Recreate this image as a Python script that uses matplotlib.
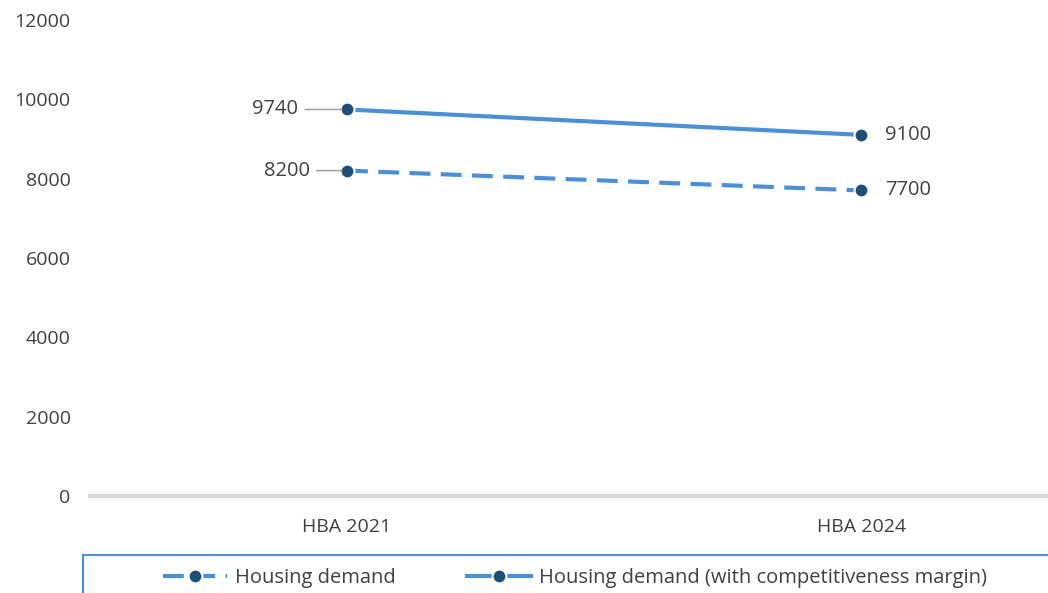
import matplotlib.pyplot as plt
from matplotlib.patches import Rectangle

plt.rcParams['font.family'] = ['Open Sans', 'DejaVu Sans']

categories = ["HBA 2021", "HBA 2024"]
demand = [8200, 7700]
demand_margin = [9740, 9100]
yticks = [0, 2000, 4000, 6000, 8000, 10000, 12000]

line_col = "#4a8fd8"
dot_col = "#1f4e79"
text_col = "#404040"

fig = plt.figure(figsize=(10.48, 5.93), dpi=100)
ax = fig.add_axes([0.0859, 0.1636, 0.981, 0.803])
x = [0, 1]

ax.plot(x, demand, linestyle=(0, (5, 2.5)), color=line_col, lw=3,
        marker='o', ms=10, mfc=dot_col, mec='white', mew=1.5,
        label="Housing demand")
ax.plot(x, demand_margin, linestyle='-', color=line_col, lw=3,
        marker='o', ms=10, mfc=dot_col, mec='white', mew=1.5,
        label="Housing demand (with competitiveness margin)")

ax.set_xlim(-0.5, 1.5)
ax.set_ylim(0, 12000)
ax.set_xticks(x)
ax.set_xticklabels(categories, fontsize=14, color=text_col)
ax.set_yticks(yticks)
ax.set_yticklabels([str(v) for v in yticks], fontsize=14, color=text_col)
ax.tick_params(length=0, pad=14)
ax.tick_params(axis='x', pad=16)
for s in ax.spines.values():
    s.set_visible(False)
ax.axhline(0, color="#d9d9d9", lw=3, zorder=0, clip_on=False)

# value labels, left side with leader lines
for yv, off in [(demand[0], -27), (demand_margin[0], -35)]:
    ax.annotate(str(yv), xy=(0, yv), xytext=(off, 0), textcoords='offset points',
                ha='right', va='center', fontsize=14.5, color=text_col,
                arrowprops=dict(arrowstyle='-', color="#a6a6a6", lw=1.2,
                                shrinkA=3, shrinkB=4))
for yv in [demand[1], demand_margin[1]]:
    ax.annotate(str(yv), xy=(1, yv), xytext=(17, 0), textcoords='offset points',
                ha='left', va='center', fontsize=14.5, color=text_col)

fig.patches.append(Rectangle((83 / 1048, -0.05), 1.0, (593 - 555) / 593 + 0.05,
                             transform=fig.transFigure, fill=False,
                             edgecolor=line_col, lw=1.5))
fig.legend(loc='center', bbox_to_anchor=(575 / 1048, 1 - 578 / 593), ncol=2,
           frameon=False, fontsize=14.5, handlelength=3.2, columnspacing=3.5,
           handletextpad=0.4, labelcolor=text_col)

fig.savefig("out.png", dpi=100)
